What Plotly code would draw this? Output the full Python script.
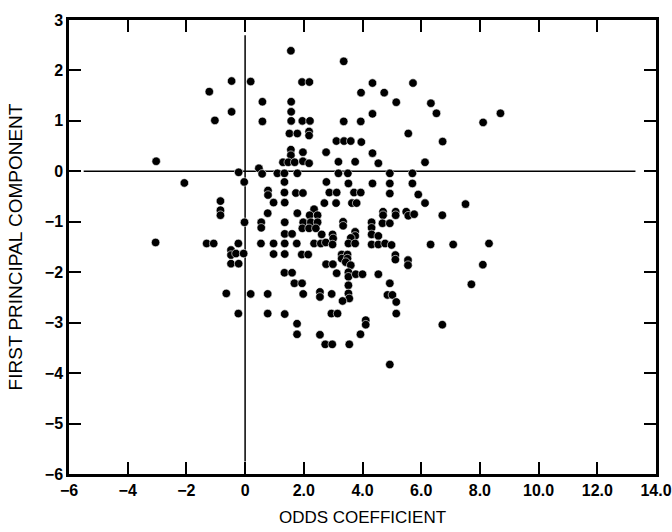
import plotly.graph_objects as go

# Odds coefficient (x) and first principal component (y)
odds = [
    1.56, 3.36, -0.46, 0.19, 1.94, 2.19, -1.22, 3.95, 4.74, 4.34, 5.72, 5.15, 6.33, 6.52, 8.70, 8.11,
    4.34, -0.46, -1.03, 0.59, 1.57, 1.57, 0.59, 1.57, 1.95, 2.21, 3.36, 3.94, 1.51, 1.78, 2.18, 2.18,
    3.11, 3.37, 3.60, 3.96, 5.56, 6.73, 1.56, 1.56, 1.97, 2.76, 4.34, 1.29, 1.47, 1.69, 1.97, 2.18,
    3.18, 3.75, 4.54, 6.13, -3.03,
    -0.22, 0.47, 0.58, 1.10, 1.34, 1.78, 3.18, 3.50, 4.93, 5.70, -2.07, -0.03, 1.34, 2.77, 3.52, 4.34,
    4.93, 5.70,
    0.78, 0.78, 1.34, 1.73, 1.97, 2.87, 3.12, 3.71, 3.94, 4.93, 5.90,
    -0.84, -0.84, -0.84, 0.97, 1.35, 2.70, 3.10, 3.64, 3.80, 6.13, 7.51,
    0.77, 1.78, 2.35, 2.20, 2.47, 4.70, 4.70, 5.13, 5.13, 5.49, 5.56, 5.76, 6.72,
    -0.02, 0.55, 0.55, 1.35, 1.98, 2.24, 2.47, 3.34, 3.34, 4.31, 4.31, 4.68, 4.93, 1.95, 2.18, 2.41,
    1.35, 1.60, 2.61, 2.98, 3.00, 3.75, 3.75, 4.31, 4.54, 3.60,
    -3.05, -1.31, -1.07, -0.23, 0.54, 0.97, 1.35, 1.76, 2.35, 2.58, 2.75, 2.98, 3.52, 3.75, 4.31, 4.54,
    4.77, 4.99, 6.32, 7.09, 8.31,
    -0.48, -0.48, -0.31, -0.05, 0.97, 1.35, 1.93, 2.15, 3.29, 3.49, 3.29, 3.49, 5.12, 5.12, 5.55, 5.55,
    -0.48, -0.22, 2.76, 2.99, 3.43, 3.60, 8.10,
    1.34, 1.60, 3.12, 3.52, 3.52, 3.77, 4.00, 4.54, 1.68, 1.94, 3.52, 4.93, 7.71,
    -0.64, 0.19, 0.77, 1.98, 2.55, 2.55, 2.95, 3.52, 3.55, 3.32, 4.85, 5.02, 5.15,
    -0.23, 0.77, 1.35, 2.94, 3.15, 5.15, 4.11, 4.11, 6.72, 1.77, 1.77, 2.55, 3.93, 2.73, 2.97, 3.55,
    4.93,
]
pc1 = [
    2.39, 2.18, 1.79, 1.78, 1.77, 1.77, 1.58, 1.56, 1.56, 1.75, 1.75, 1.37, 1.35, 1.15, 1.15, 0.97,
    1.14, 1.18, 1.01, 1.38, 1.38, 1.18, 0.99, 1.00, 1.00, 1.00, 0.99, 0.99, 0.75, 0.75, 0.79, 0.71,
    0.60, 0.60, 0.60, 0.58, 0.75, 0.59, 0.43, 0.32, 0.38, 0.38, 0.36, 0.18, 0.18, 0.18, 0.20, 0.16,
    0.19, 0.19, 0.16, 0.18, 0.20,
    -0.02, 0.06, -0.05, -0.04, -0.04, -0.04, -0.04, -0.04, -0.04, -0.04, -0.23, -0.21, -0.21, -0.21,
    -0.24, -0.24, -0.24, -0.24,
    -0.38, -0.47, -0.42, -0.43, -0.43, -0.42, -0.42, -0.42, -0.42, -0.44, -0.46,
    -0.59, -0.77, -0.87, -0.62, -0.62, -0.63, -0.63, -0.63, -0.63, -0.63, -0.65,
    -0.83, -0.83, -0.75, -0.87, -0.87, -0.80, -0.87, -0.80, -0.87, -0.80, -0.88, -0.85, -0.87,
    -1.01, -1.01, -1.12, -1.01, -1.01, -1.01, -1.01, -1.00, -1.08, -1.01, -1.12, -1.03, -1.03, -1.13,
    -1.13, -1.13,
    -1.24, -1.24, -1.25, -1.25, -1.33, -1.20, -1.28, -1.25, -1.28, -1.32,
    -1.41, -1.43, -1.43, -1.43, -1.43, -1.43, -1.43, -1.43, -1.43, -1.43, -1.41, -1.45, -1.43, -1.43,
    -1.45, -1.45, -1.43, -1.46, -1.45, -1.45, -1.43,
    -1.56, -1.66, -1.63, -1.63, -1.64, -1.64, -1.65, -1.65, -1.65, -1.65, -1.73, -1.73, -1.66, -1.75,
    -1.76, -1.86,
    -1.83, -1.83, -1.84, -1.84, -1.80, -1.86, -1.85,
    -2.01, -2.01, -2.02, -2.00, -2.09, -2.04, -2.04, -2.04, -2.22, -2.22, -2.26, -2.22, -2.24,
    -2.42, -2.43, -2.43, -2.43, -2.39, -2.49, -2.43, -2.42, -2.52, -2.57, -2.45, -2.45, -2.59,
    -2.82, -2.82, -2.83, -2.82, -2.82, -2.82, -2.95, -3.04, -3.04, -3.02, -3.23, -3.24, -3.23, -3.43,
    -3.43, -3.43,
    -3.83,
]

x_tick_vals = [-6, -4, -2, 0, 2, 4, 6, 8, 10, 12, 14]
x_tick_text = ["\u22126", "\u22124", "\u22122", "0", "2.0", "4.0", "6.0", "8.0", "10.0", "12.0", "14.0"]
y_tick_vals = [3, 2, 1, 0, -1, -2, -3, -4, -5, -6]
y_tick_text = ["3", "2", "1", "0", "\u22121", "\u22122", "\u22123", "\u22124", "\u22125", "\u22126"]

tick_font = dict(family="Liberation Sans, Arial, sans-serif", size=16, color="black", weight="bold")

fig = go.Figure(
    go.Scatter(
        x=odds, y=pc1, mode="markers",
        marker=dict(color="black", size=8.5, line=dict(color="white", width=0.6)),
        hoverinfo="x+y",
    )
)

# reference cross lines through the origin
fig.add_shape(type="line", xref="x", yref="y", x0=0, x1=0, y0=-5.75, y1=2.7,
              line=dict(color="black", width=1.5), layer="below")
fig.add_shape(type="line", xref="x", yref="y", x0=-5.5, x1=13.3, y0=0, y1=0,
              line=dict(color="black", width=1.5), layer="below")

fig.update_layout(
    width=672, height=532,
    margin=dict(l=69, r=16, t=20, b=58),
    plot_bgcolor="white", paper_bgcolor="white",
    showlegend=False,
)
fig.update_xaxes(
    range=[-6, 14], tickmode="array", tickvals=x_tick_vals, ticktext=x_tick_text,
    ticks="inside", ticklen=12, tickwidth=2, tickcolor="black",
    showline=True, linewidth=2.5, linecolor="black", mirror="ticks",
    showgrid=False, zeroline=False, tickfont=tick_font,
    title=dict(text="ODDS COEFFICIENT",
               font=dict(family="Liberation Sans, Arial, sans-serif", size=17, color="black"),
               standoff=14),
    automargin=False,
)
fig.update_yaxes(
    range=[-6, 3], tickmode="array", tickvals=y_tick_vals, ticktext=y_tick_text,
    ticks="inside", ticklen=12, tickwidth=2, tickcolor="black",
    showline=True, linewidth=2.5, linecolor="black", mirror="ticks",
    showgrid=False, zeroline=False, tickfont=tick_font,
    title=dict(text="FIRST PRINCIPAL COMPONENT",
               font=dict(family="Liberation Sans, Arial, sans-serif", size=19, color="black"),
               standoff=18),
    automargin=False,
)

fig.write_html(
    "out.html",
    config={"displayModeBar": False},
    post_script="document.body.style.margin='0px';document.body.style.overflow='hidden';",
)
